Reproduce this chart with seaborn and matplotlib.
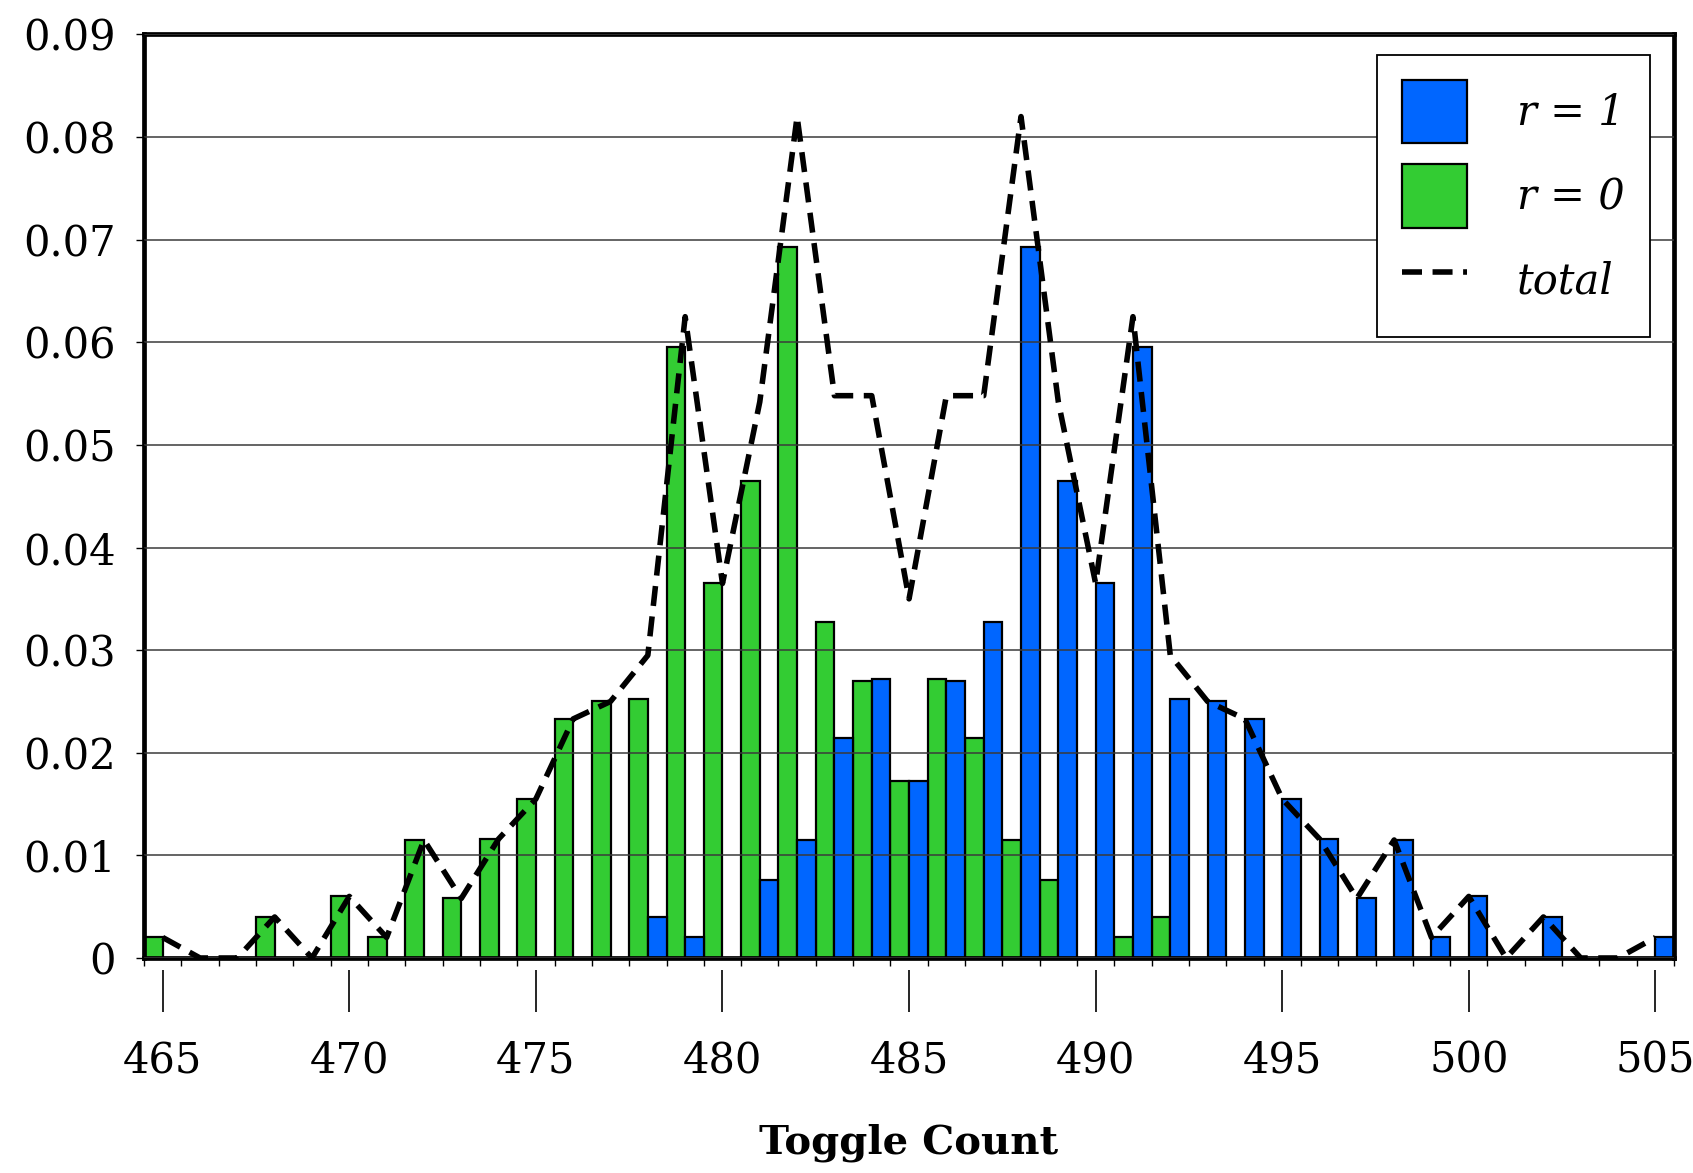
# Toggle count distribution, r = 0 / r = 1 and total
import pandas as pd
import matplotlib
matplotlib.use("Agg")
import matplotlib.pyplot as plt
import seaborn as sns
from matplotlib.patches import Patch
from matplotlib.lines import Line2D

# ---------- data ----------
toggle_count = [465, 466, 467, 468, 469, 470, 471, 472, 473, 474,
                475, 476, 477, 478, 479, 480, 481, 482, 483, 484,
                485, 486, 487, 488, 489, 490, 491, 492, 493, 494,
                495, 496, 497, 498, 499, 500, 501, 502, 503, 504, 505]

r0_freq = [0.002, 0.0, 0.0, 0.004, 0.0, 0.006, 0.002, 0.0115, 0.0058, 0.0116,
           0.0155, 0.0233, 0.025, 0.0252, 0.0595, 0.0365, 0.0465, 0.0693, 0.0327, 0.027,
           0.0172, 0.0272, 0.0214, 0.0115, 0.0076, 0.0, 0.002, 0.004, 0.0, 0.0,
           0.0, 0.0, 0.0, 0.0, 0.0, 0.0, 0.0, 0.0, 0.0, 0.0, 0.0]

r1_freq = [0.0, 0.0, 0.0, 0.0, 0.0, 0.0, 0.0, 0.0, 0.0, 0.0,
           0.0, 0.0, 0.0, 0.004, 0.002, 0.0, 0.0076, 0.0115, 0.0214, 0.0272,
           0.0172, 0.027, 0.0327, 0.0693, 0.0465, 0.0365, 0.0595, 0.0252, 0.025, 0.0233,
           0.0155, 0.0116, 0.0058, 0.0115, 0.002, 0.006, 0.0, 0.004, 0.0, 0.0, 0.002]

total_freq = [0.002, 0.0, 0.0, 0.004, 0.0, 0.006, 0.002, 0.0115, 0.0058, 0.0116,
              0.0155, 0.0233, 0.025, 0.0295, 0.0625, 0.0365, 0.0542, 0.082, 0.0548, 0.0548,
              0.035, 0.0548, 0.0548, 0.082, 0.0542, 0.0365, 0.0625, 0.0295, 0.025, 0.0233,
              0.0155, 0.0116, 0.0058, 0.0115, 0.002, 0.006, 0.0, 0.004, 0.0, 0.0, 0.002]

y_ticks = [0.0, 0.01, 0.02, 0.03, 0.04, 0.05, 0.06, 0.07, 0.08, 0.09]
y_labels = ["0", "0.01", "0.02", "0.03", "0.04", "0.05", "0.06", "0.07", "0.08", "0.09"]
x_major = [465, 470, 475, 480, 485, 490, 495, 500, 505]

blue = "#0066FF"
green = "#33CC33"

# long table for seaborn
df = pd.DataFrame({
    "count": toggle_count + toggle_count,
    "freq": r0_freq + r1_freq,
    "r": ["r = 0"] * len(toggle_count) + ["r = 1"] * len(toggle_count),
})

# ---------- plot ----------
sns.set_theme(style="white")
plt.rcParams["font.family"] = ["DejaVu Serif"]
plt.rcParams["text.color"] = "black"
plt.rcParams["axes.labelcolor"] = "black"

fig = plt.figure(figsize=(16.93, 11.73), dpi=100)
ax = fig.add_axes([0.0851, 0.1833, 0.9037, 0.7873])

sns.barplot(data=df, x="count", y="freq", hue="r", hue_order=["r = 0", "r = 1"],
            palette={"r = 0": green, "r = 1": blue}, native_scale=True,
            width=1.0, gap=0, saturation=1, errorbar=None, edgecolor="black",
            linewidth=1.6, legend=False, ax=ax)

dash = (0, (3.6, 1.9))
sns.lineplot(x=toggle_count, y=total_freq, color="black", lw=4.0, ax=ax, legend=False)
tot_line = ax.lines[-1]
tot_line.set_linestyle(dash)
tot_line.set_zorder(4)

ax.set_xlim(464.5, 505.5)
ax.set_ylim(0, 0.09)

# grid drawn over the bars
ax.set_axisbelow(False)
ax.yaxis.grid(True, color="#3a3a3a", lw=1.1)
ax.xaxis.grid(False)

ax.set_yticks(y_ticks)
ax.set_yticklabels(y_labels)
ax.tick_params(axis="y", left=True, direction="out", length=5.5, width=1.0,
               pad=15, labelsize=30, colors="black")

# short ticks at the bin edges
ax.set_xticks([c - 0.5 for c in toggle_count] + [505.5])
ax.set_xticklabels([])
ax.tick_params(axis="x", bottom=True, direction="out", length=6, width=1.0,
               colors="black")
ax.set_xlabel("")
ax.set_ylabel("")

for side in ["left", "right", "top", "bottom"]:
    ax.spines[side].set_visible(True)
    ax.spines[side].set_color("black")
    ax.spines[side].set_linewidth(3.4)

# long labelled ticks, offset below the axis
sec = ax.secondary_xaxis(-0.013)
sec.set_xticks(x_major)
sec.set_xticklabels([str(v) for v in x_major])
sec.spines["bottom"].set_visible(False)
sec.tick_params(axis="x", direction="out", length=30, width=1.2, pad=20,
                labelsize=30, colors="black")
sec.set_xlabel("Toggle Count", fontsize=29, fontweight="bold", labelpad=30,
               color="black")

# legend
handles = [
    Patch(facecolor=blue, edgecolor="black", lw=1.6),
    Patch(facecolor=green, edgecolor="black", lw=1.6),
    Line2D([], [], color="black", lw=4.0, linestyle=dash),
]
leg = ax.legend(handles, ["r = 1", "r = 0", "total"], loc="upper right",
                bbox_to_anchor=(0.984, 0.978), borderaxespad=0, frameon=True,
                fancybox=False, framealpha=1, edgecolor="black",
                prop={"family": "DejaVu Serif", "style": "italic", "size": 30},
                handlelength=1.55, handleheight=1.95, labelspacing=0.52,
                handletextpad=1.2, borderpad=0.6)
leg.get_frame().set_linewidth(1.3)
leg.set_zorder(6)

fig.savefig("out.png", dpi=100)
